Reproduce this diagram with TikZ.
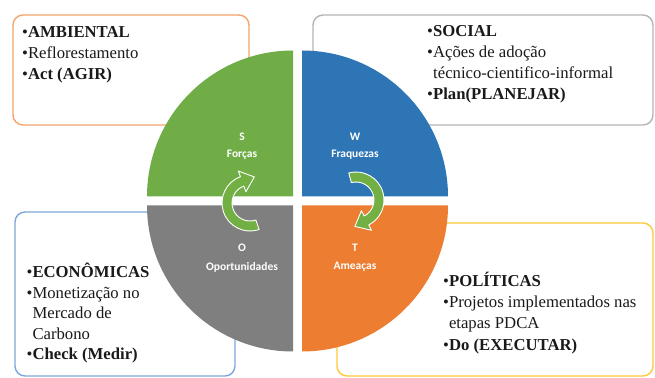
\documentclass[tikz,border=0pt]{standalone}
\usepackage{fontspec}
\setmainfont{Liberation Serif}
\newfontfamily\quadfont{Carlito}
\usetikzlibrary{calc}
\definecolor{qgreen}{HTML}{70AD47}
\definecolor{qblue}{HTML}{2E75B6}
\definecolor{qorange}{HTML}{ED7D31}
\definecolor{qgray}{HTML}{7F7F7F}
\definecolor{agreen}{HTML}{72B043}
\definecolor{borange}{HTML}{F4A46C}
\definecolor{bgray}{HTML}{B4B4B4}
\definecolor{bblue}{HTML}{7EA6DC}
\definecolor{byellow}{HTML}{FFC93C}
\definecolor{txtc}{HTML}{1A1A1A}
\begin{document}
\begin{tikzpicture}[x=1pt,y=1pt,
  boxframe/.style={rounded corners=10pt, line width=1.4pt, fill=white},
  txt/.style={anchor=base west, inner sep=0pt, text=txtc, font=\fontsize{16.7}{20}\selectfont},
  qlabel/.style={inner sep=0pt, text=white, font=\quadfont\bfseries\fontsize{11.5}{13}\selectfont},
  arrowshape/.style={fill=agreen, draw=white, line width=0.9pt, line join=round}]
\useasboundingbox (0,0) rectangle (655,377);
\fill[white] (0,0) rectangle (655,377);

% boxes
\draw[boxframe, draw=borange] (13,252) rectangle (249,362);
\draw[boxframe, draw=bgray] (313,252) rectangle (653,362);
\draw[boxframe, draw=bblue] (15,1) rectangle (235,165);
\draw[boxframe, draw=byellow] (337,1) rectangle (653,154);

% quadrants
\fill[qgreen] (293,180.5) -- ++(-146,0) arc[start angle=180, end angle=90, radius=146] -- cycle;
\fill[qblue] (302,180.5) -- ++(0,146) arc[start angle=90, end angle=0, radius=146] -- cycle;
\fill[qorange] (302,171.5) -- ++(146,0) arc[start angle=0, end angle=-90, radius=146] -- cycle;
\fill[qgray] (293,171.5) -- ++(0,-146) arc[start angle=270, end angle=180, radius=146] -- cycle;

% quadrant labels
\node[qlabel] (s) at (242,240) {S};
\node[qlabel] (sl) at (242,222) {Forças};
\node[qlabel] (w) at (355,240) {W};
\node[qlabel] (wl) at (355,222) {Fraquezas};
\node[qlabel] (o) at (242,129) {O};
\node[qlabel] (ol) at (242,110) {Oportunidades};
\node[qlabel] (t) at (355,129) {T};
\node[qlabel] (tl) at (355,110) {Ameaças};

% curved arrows
\coordinate (cl) at (250,174);
\draw[arrowshape] ($(cl)+(289:28)$) arc[start angle=289, end angle=110, radius=28]
  -- ($(cl)+(110:34)$) -- ($(cl)+(110:23)+(20:13)$) -- ($(cl)+(110:12)$)
  -- ($(cl)+(110:18)$) arc[start angle=110, end angle=289, radius=18] -- cycle;
\coordinate (cr) at (356,177);
\draw[arrowshape] ($(cr)+(105:28)$) arc[start angle=105, end angle=-63, radius=28]
  -- ($(cr)+(-63:34)$) -- ($(cr)+(-63:23)+(-153:13)$) -- ($(cr)+(-63:12)$)
  -- ($(cr)+(-63:18)$) arc[start angle=-63, end angle=105, radius=18] -- cycle;

% texts
\node[txt] (a1) at (22,339) {•\textbf{AMBIENTAL}};
\node[txt] (a2) at (22,318) {•Reflorestamento};
\node[txt] (a3) at (22,297) {•\textbf{Act (AGIR)}};

\node[txt] (b1) at (427,340) {•\textbf{SOCIAL}};
\node[txt] (b2) at (427,319) {•Ações de adoção};
\node[txt] (b3) at (433,298) {técnico-cientifico-informal};
\node[txt] (b4) at (427,277) {•\textbf{Plan(PLANEJAR)}};

\node[txt] (c1) at (26.5,99) {•\textbf{ECONÔMICAS}};
\node[txt] (c2) at (26.5,78.5) {•Monetização no};
\node[txt] (c3) at (32.3,58) {Mercado de};
\node[txt] (c4) at (32.3,37.5) {Carbono};
\node[txt] (c5) at (26.5,17) {•\textbf{Check (Medir)}};

\node[txt] (d1) at (443,90) {•\textbf{POLÍTICAS}};
\node[txt] (d2) at (443,69) {•Projetos implementados nas};
\node[txt] (d3) at (448.8,48) {etapas PDCA};
\node[txt] (d4) at (443,27) {•\textbf{Do (EXECUTAR)}};
\end{tikzpicture}
\end{document}
